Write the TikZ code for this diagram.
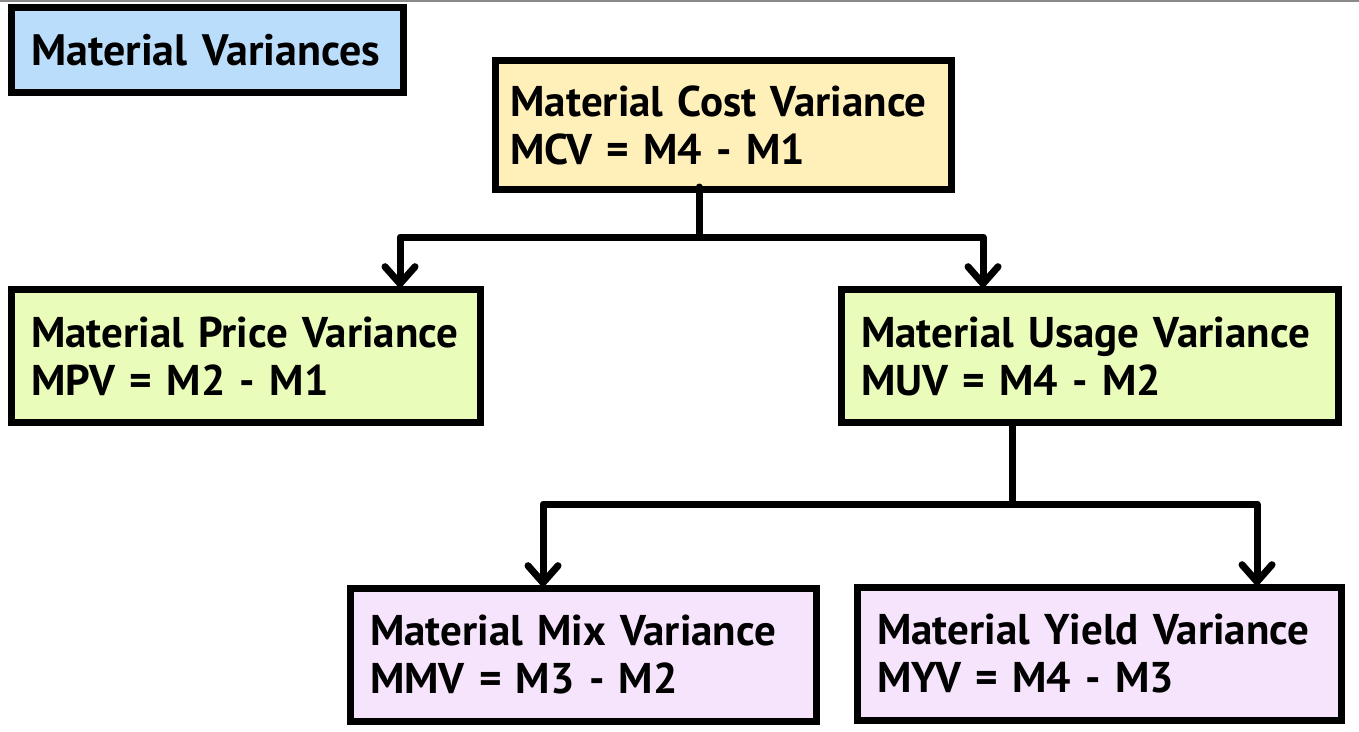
\documentclass[tikz,border=0pt]{standalone}
\usepackage{fontspec}
\setmainfont{PT Sans}
\usetikzlibrary{arrows.meta}

\definecolor{titleblue}{RGB}{185,221,251}
\definecolor{costyellow}{RGB}{255,240,185}
\definecolor{usegreen}{RGB}{234,252,185}
\definecolor{mixlilac}{RGB}{245,228,252}
\definecolor{rulegray}{RGB}{138,138,138}

\tikzset{
  varbox/.style={draw=black, line width=7pt, rectangle, inner xsep=19.5pt, inner ysep=0pt,
    minimum height=133pt, align=left, font=\bfseries\fontsize{43}{48}\selectfont},
  link/.style={draw=black, line width=7pt, line cap=round, line join=round},
  arrowlink/.style={link, -{Straight Barb[length=17pt, width=30pt, line cap=round]}},
}

\begin{document}
\begin{tikzpicture}[x=1pt, y=-1pt]
  \useasboundingbox (0,0) rectangle (1359,731);

  % thin rule along the top edge
  \draw[rulegray, line width=2pt] (0,1) -- (1359,1);

  % title
  \node[varbox, fill=titleblue, minimum width=392pt, minimum height=85pt,
        text width=353pt, font=\bfseries\fontsize{44}{48}\selectfont] (title) at (207.5,50)
        {Material Variances};

  % variance boxes
  \node[varbox, fill=costyellow, minimum width=456pt, minimum height=129pt,
        inner xsep=15pt, text width=426pt]
        (mcv) at (723.5,125) {Material Cost Variance\\MCV = M4 - M1};
  \node[varbox, fill=usegreen, minimum width=469pt, text width=430pt]
        (mpv) at (246,356) {Material Price Variance\\MPV = M2 - M1};
  \node[varbox, fill=usegreen, minimum width=497pt, text width=458pt]
        (muv) at (1090,356) {Material Usage Variance\\MUV = M4 - M2};
  \node[varbox, fill=mixlilac, minimum width=466pt, text width=427pt]
        (mmv) at (583.5,655) {Material Mix Variance\\MMV = M3 - M2};
  \node[varbox, fill=mixlilac, minimum width=484pt, text width=445pt]
        (myv) at (1099.5,654) {Material Yield Variance\\MYV = M4 - M3};

  % branch points
  \coordinate (j1) at (699,237);
  \coordinate (a1) at (400,237);
  \coordinate (a2) at (983,237);
  \coordinate (j2) at (1012,504);
  \coordinate (b1) at (543,504);
  \coordinate (b2) at (1257,504);

  % cost variance splits into price and usage
  \draw[link] ([yshift=6pt]mcv.south -| j1) -- (j1);
  \draw[arrowlink, shorten >=-3pt] (j1) -| (a1 |- mpv.north);
  \draw[arrowlink, shorten >=-3pt] (j1) -| (a2 |- muv.north);

  % usage variance splits into mix and yield
  \draw[link] (muv.south -| j2) -- (j2);
  \draw[arrowlink, shorten >=-3pt] (j2) -| (b1 |- mmv.north);
  \draw[arrowlink, shorten >=-3pt] (j2) -| (b2 |- myv.north);
\end{tikzpicture}
\end{document}
